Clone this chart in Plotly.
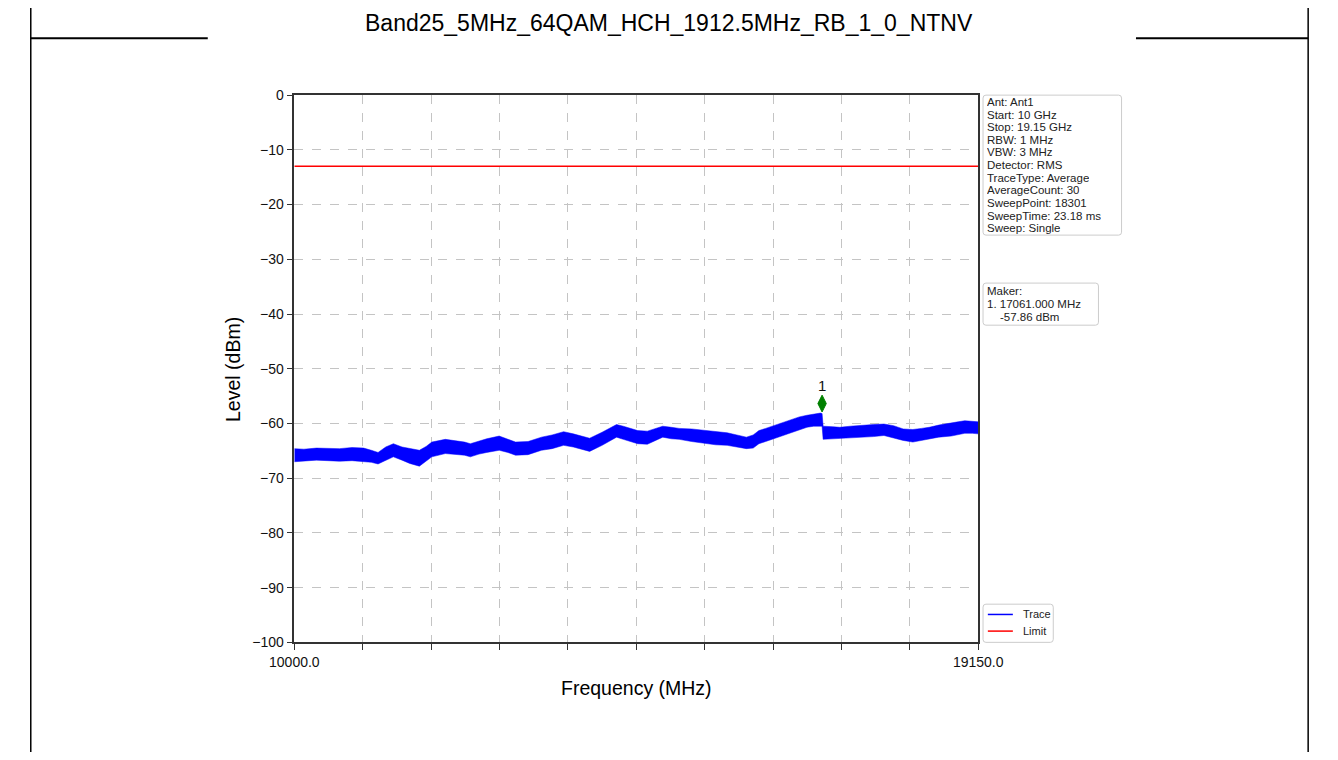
import plotly.graph_objects as go

W, H = 1338, 760

TITLE = "Band25_5MHz_64QAM_HCH_1912.5MHz_RB_1_0_NTNV"
X_TITLE = "Frequency (MHz)"
Y_TITLE = "Level (dBm)"

START_MHZ = 10000.0
STOP_MHZ = 19150.0
LIMIT_DBM = -13.0

# Trace envelope (MHz, dBm)
trace_freq_mhz = [
    10000, 10129, 10296, 10450, 10605, 10772, 10927, 11030, 11120, 11223,
    11325, 11441, 11544, 11673, 11763, 11840, 12020, 12149, 12278, 12355,
    12471, 12574, 12741, 12857, 12960, 13127, 13307, 13449, 13603, 13732,
    13861, 13951, 14118, 14208, 14311, 14401, 14504, 14594, 14723, 14826,
    14929, 15045, 15148, 15315, 15495, 15637, 15791, 15920, 16048, 16139,
    16216, 16306, 16409, 16525, 16653, 16756, 16859, 16949, 17039, 17061,
    17075, 17207, 17297, 17438, 17593, 17747, 17889, 18017, 18146, 18275,
    18391, 18494, 18622, 18789, 18880, 18970, 19073, 19150,
]
trace_upper_dbm = [
    -64.6, -64.7, -64.5, -64.6, -64.6, -64.4, -64.5, -64.9, -65.3, -64.3,
    -63.7, -64.3, -64.6, -64.9, -64.2, -63.4, -62.9, -63.1, -63.4, -63.7,
    -63.2, -62.8, -62.3, -62.9, -63.4, -63.3, -62.5, -62.1, -61.5, -61.9,
    -62.3, -62.7, -61.6, -60.9, -60.2, -60.5, -61.0, -61.3, -61.4, -60.9,
    -60.5, -60.7, -60.9, -61.0, -61.3, -61.5, -61.7, -62.1, -62.5, -62.1,
    -61.3, -60.9, -60.4, -59.8, -59.2, -58.8, -58.5, -58.3, -58.1, -58.2,
    -60.5, -60.6, -60.7, -60.5, -60.3, -60.2, -60.1, -60.4, -61.0, -61.1,
    -60.9, -60.7, -60.3, -60.0, -59.7, -59.5, -59.6, -59.7,
]
trace_lower_dbm = [
    -67.0, -66.9, -66.7, -66.8, -66.9, -66.8, -66.9, -67.1, -67.4, -66.7,
    -66.1, -66.7, -67.3, -67.8, -66.8, -66.1, -65.5, -65.6, -65.8, -66.1,
    -65.6, -65.3, -64.9, -65.3, -65.8, -65.7, -64.9, -64.6, -64.0, -64.3,
    -64.7, -65.1, -64.0, -63.3, -62.5, -62.9, -63.4, -63.7, -63.8, -63.1,
    -62.5, -62.8, -62.9, -63.3, -63.7, -63.9, -64.0, -64.3, -64.6, -64.5,
    -63.7, -63.3, -62.8, -62.2, -61.6, -61.2, -60.7, -60.5, -60.4, -60.5,
    -62.9, -62.8, -62.8, -62.6, -62.5, -62.4, -62.2, -62.7, -63.1, -63.4,
    -63.1, -62.8, -62.5, -62.3, -62.0, -61.8, -61.8, -61.9,
]

marker_freq_mhz = [17061.0]
marker_level_dbm = [-57.86]
marker_labels = ["1"]

x_tick_vals = [10000, 10915, 11830, 12745, 13660, 14575, 15490, 16405, 17320, 18235, 19150]
x_tick_text = ["10000.0", "", "", "", "", "", "", "", "", "", "19150.0"]
y_tick_vals = [0, -10, -20, -30, -40, -50, -60, -70, -80, -90, -100]

info_lines = [
    "Ant: Ant1", "Start: 10 GHz", "Stop: 19.15 GHz", "RBW: 1 MHz", "VBW: 3 MHz",
    "Detector: RMS", "TraceType: Average", "AverageCount: 30", "SweepPoint: 18301",
    "SweepTime: 23.18 ms", "Sweep: Single",
]
marker_box_lines = ["Maker:", "1. 17061.000 MHz", "-57.86 dBm"]
legend_names = ["Trace", "Limit"]
legend_colors = ["#0000ff", "#ff0000"]

# ---- styling / layout helpers ----
FONT = "Arial, 'Liberation Sans', Helvetica, sans-serif"
MARKER_LIFT_DB = 1.5


def px(x):
    return x / W


def py(y):
    return 1 - y / H


PLOT_L, PLOT_R, PLOT_T, PLOT_B = 280, 991, 89, 648

fig = go.Figure()

fig.add_trace(go.Scatter(
    x=trace_freq_mhz, y=trace_lower_dbm, mode="lines",
    line=dict(color="#0000ff", width=0.5), showlegend=False, hoverinfo="skip"))
fig.add_trace(go.Scatter(
    x=trace_freq_mhz, y=trace_upper_dbm, mode="lines", fill="tonexty",
    fillcolor="#0000ff", line=dict(color="#0000ff", width=0.5),
    name="Trace", showlegend=False))
fig.add_trace(go.Scatter(
    x=[START_MHZ, STOP_MHZ], y=[LIMIT_DBM, LIMIT_DBM], mode="lines",
    line=dict(color="#ff0000", width=1.3), name="Limit", showlegend=False))
fig.add_trace(go.Scatter(
    x=marker_freq_mhz, y=[v + MARKER_LIFT_DB for v in marker_level_dbm],
    mode="markers+text", text=marker_labels, textposition="top center",
    textfont=dict(family=FONT, size=15, color="#111"),
    marker=dict(symbol="diamond-tall", size=12, color="#008000",
                line=dict(color="#008000", width=1)),
    showlegend=False))

axis_common = dict(
    showline=True, linecolor="#333", linewidth=1.5, mirror=True,
    ticks="outside", ticklen=6, tickwidth=1.3, tickcolor="#333",
    showgrid=True, gridcolor="#c4c4c4", gridwidth=1, griddash="dash",
    zeroline=False, tickfont=dict(family=FONT, size=14, color="#111"),
)

fig.update_layout(
    width=W, height=H,
    margin=dict(l=0, r=0, t=0, b=0),
    paper_bgcolor="white", plot_bgcolor="white",
    showlegend=False,
    xaxis=dict(domain=[px(PLOT_L), px(PLOT_R)], range=[START_MHZ, STOP_MHZ],
               tickmode="array", tickvals=x_tick_vals, ticktext=x_tick_text,
               **axis_common),
    yaxis=dict(domain=[py(PLOT_B), py(PLOT_T)], range=[-100, 0],
               tickmode="array", tickvals=y_tick_vals, **axis_common),
)

shapes = []
# outer frame lines
shapes.append(dict(type="line", xref="paper", yref="paper", x0=px(6), x1=px(6), y0=0, y1=1,
                   line=dict(color="black", width=1.5)))
shapes.append(dict(type="line", xref="paper", yref="paper", x0=px(1334), x1=px(1334), y0=0, y1=1,
                   line=dict(color="black", width=1.5)))
shapes.append(dict(type="line", xref="paper", yref="paper", x0=px(6), x1=px(190), y0=py(31), y1=py(31),
                   line=dict(color="black", width=2)))
shapes.append(dict(type="line", xref="paper", yref="paper", x0=px(1155), x1=px(1334), y0=py(31), y1=py(31),
                   line=dict(color="black", width=2)))


def rounded_box(x0, y0, x1, y1, r=3):
    rx, ry = r / W, r / H
    a, b, c, d = px(x0), px(x1), py(y0), py(y1)
    path = (f"M {a+rx},{c} L {b-rx},{c} Q {b},{c} {b},{c-ry} "
            f"L {b},{d+ry} Q {b},{d} {b-rx},{d} L {a+rx},{d} Q {a},{d} {a},{d+ry} "
            f"L {a},{c-ry} Q {a},{c} {a+rx},{c} Z")
    return dict(type="path", xref="paper", yref="paper", path=path,
                fillcolor="rgba(255,255,255,0.9)", line=dict(color="#cccccc", width=1))


shapes.append(rounded_box(996, 89, 1140, 232))
shapes.append(rounded_box(996, 281, 1116, 324))
shapes.append(rounded_box(996, 609, 1069, 648))

annotations = []
annotations.append(dict(text=TITLE, xref="paper", yref="paper", x=px(669), y=py(15),
                        xanchor="center", yanchor="middle", showarrow=False,
                        font=dict(family=FONT, size=23, color="black")))
annotations.append(dict(text=X_TITLE, xref="paper", yref="paper", x=px(636), y=py(695),
                        xanchor="center", yanchor="middle", showarrow=False,
                        font=dict(family=FONT, size=19.5, color="black")))
annotations.append(dict(text=Y_TITLE, xref="paper", yref="paper", x=px(216), y=py(369),
                        xanchor="center", yanchor="middle", showarrow=False, textangle=-90,
                        font=dict(family=FONT, size=19.5, color="black")))

BOX_FONT = 11.5
LINE_STEP = 12.9
for i, line in enumerate(info_lines):
    annotations.append(dict(text=line, xref="paper", yref="paper", x=px(999), y=py(96.5 + LINE_STEP * i),
                            xanchor="left", yanchor="middle", showarrow=False,
                            height=LINE_STEP - 0.3, borderpad=0,
                            font=dict(family=FONT, size=BOX_FONT, color="#222")))

marker_box_x = [999, 999, 1013]
for i, line in enumerate(marker_box_lines):
    annotations.append(dict(text=line, xref="paper", yref="paper", x=px(marker_box_x[i]),
                            y=py(290 + LINE_STEP * i), xanchor="left", yanchor="middle",
                            height=LINE_STEP - 0.3, borderpad=0,
                            showarrow=False, font=dict(family=FONT, size=BOX_FONT, color="#222")))

for i, (name, col) in enumerate(zip(legend_names, legend_colors)):
    yc = 619.5 + 17 * i
    shapes.append(dict(type="line", xref="paper", yref="paper", x0=px(1001), x1=px(1027),
                       y0=py(yc), y1=py(yc), line=dict(color=col, width=1.5)))
    annotations.append(dict(text=name, xref="paper", yref="paper", x=px(1035), y=py(yc),
                            xanchor="left", yanchor="middle", showarrow=False,
                            font=dict(family=FONT, size=11, color="#222")))

fig.update_layout(shapes=shapes, annotations=annotations)

fig.write_html(
    "out.html",
    config={"responsive": False, "displayModeBar": False},
    post_script="document.body.style.margin='0';document.body.style.padding='0';"
                "document.documentElement.style.overflow='hidden';",
)
